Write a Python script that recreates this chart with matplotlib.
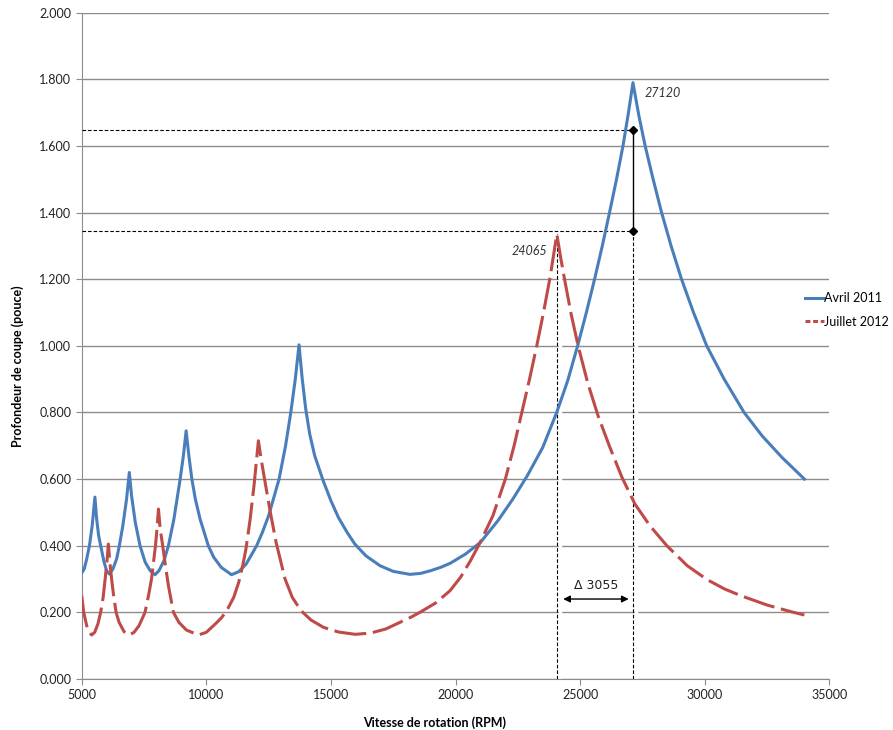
import matplotlib
matplotlib.use("Agg")
import matplotlib.pyplot as plt
from matplotlib.lines import Line2D
from matplotlib.ticker import FormatStrFormatter

plt.rcParams['font.family'] = ['Lato', 'DejaVu Sans']

# Stability lobes, April 2011 (spindle speed in RPM, depth of cut in inches)
avril_rpm = [5000, 5100, 5200, 5310, 5420, 5530, 5600, 5680, 5760, 5900, 6000, 6110,
             6250, 6400, 6510, 6650, 6800, 6910, 7000, 7150, 7340, 7550, 7750, 7940,
             8100, 8300, 8480, 8700, 8950, 9080, 9190, 9300, 9420, 9560, 9750, 10080,
             10300, 10600, 11010, 11300, 11600, 12020, 12250, 12500, 12920, 13180, 13390,
             13570, 13720, 13850, 13990, 14150, 14350, 14690, 15000, 15300, 15650, 15960,
             16400, 16970, 17500, 18170, 18600, 19000, 19400, 19780, 20400, 21000, 21700,
             22300, 22880, 23500, 24060, 24500, 24900, 25250, 25580, 25890, 26180,
             26460, 26720, 26940, 27120, 27360, 27610, 27930, 28270, 28650, 29070,
             29550, 30080, 30780, 31580, 32300, 33100, 34000]
avril_depth = [0.318, 0.330, 0.360, 0.400, 0.460, 0.546, 0.480, 0.430, 0.400, 0.350,
               0.325, 0.315, 0.330, 0.360, 0.400, 0.460, 0.540, 0.620, 0.550, 0.470,
               0.400, 0.350, 0.325, 0.313, 0.325, 0.355, 0.400, 0.480, 0.600, 0.670,
               0.745, 0.670, 0.600, 0.540, 0.480, 0.400, 0.365, 0.335, 0.313, 0.322,
               0.345, 0.400, 0.440, 0.490, 0.600, 0.700, 0.800, 0.900, 1.003, 0.900,
               0.810, 0.735, 0.670, 0.595, 0.535, 0.485, 0.440, 0.405, 0.370, 0.340,
               0.323, 0.314, 0.317, 0.325, 0.335, 0.347, 0.375, 0.410, 0.475, 0.540,
               0.610, 0.695, 0.800, 0.895, 1.000, 1.100, 1.200, 1.300, 1.400, 1.500,
               1.600, 1.700, 1.790, 1.690, 1.600, 1.500, 1.400, 1.300, 1.200, 1.100,
               1.000, 0.900, 0.800, 0.730, 0.665, 0.600]

# Stability lobes, July 2012
juillet_rpm = [5000, 5080, 5200, 5300, 5400, 5520, 5650, 5760, 5860, 5940, 6010, 6070,
               6130, 6200, 6280, 6380, 6500, 6700, 6910, 7100, 7300, 7540, 7680, 7800,
               7880, 7960, 8020, 8080, 8150, 8250, 8360, 8480, 8680, 8900, 9200, 9680,
               10000, 10400, 10600, 10820, 11100, 11300, 11460, 11590, 11760, 11920,
               12090, 12200, 12360, 12570, 12800, 13160, 13450, 13800, 14200, 14700,
               15300, 15980, 16600, 17200, 17770, 18200, 18570, 19200, 19780, 20200,
               20600, 20990, 21500, 22000, 22350, 22660, 22970, 23260, 23530, 23780,
               23930, 24065, 24230, 24400, 24640, 24920, 25300, 25720, 26170, 26680,
               27200, 27800, 28480, 29300, 30100, 30800, 31450, 32500, 33460, 34000]
juillet_depth = [0.250, 0.200, 0.160, 0.140, 0.132, 0.140, 0.165, 0.200, 0.245, 0.300,
                 0.350, 0.405, 0.350, 0.300, 0.250, 0.200, 0.170, 0.142, 0.132, 0.140,
                 0.160, 0.200, 0.250, 0.300, 0.350, 0.400, 0.450, 0.510, 0.450, 0.400,
                 0.340, 0.280, 0.200, 0.170, 0.147, 0.132, 0.140, 0.168, 0.183, 0.205,
                 0.245, 0.290, 0.340, 0.390, 0.480, 0.585, 0.715, 0.660, 0.590, 0.500,
                 0.410, 0.300, 0.245, 0.205, 0.177, 0.155, 0.141, 0.134, 0.138, 0.150,
                 0.170, 0.185, 0.200, 0.228, 0.265, 0.305, 0.355, 0.410, 0.490, 0.600,
                 0.700, 0.800, 0.900, 1.000, 1.100, 1.200, 1.270, 1.335, 1.260, 1.190,
                 1.095, 1.000, 0.890, 0.790, 0.700, 0.605, 0.525, 0.460, 0.400, 0.340,
                 0.298, 0.270, 0.250, 0.222, 0.202, 0.192]

peak_avril = (27120, 1.790)
peak_juillet = (24065, 1.335)
level_high, level_low = 1.647, 1.345

blue = '#4A7EBB'
red = '#BE4B48'
grid_gray = '#8C8C8C'

fig = plt.figure(figsize=(8.93, 7.30), dpi=100)
ax = fig.add_axes([0.0915, 0.0699, 0.8372, 0.9127])

ax.plot(avril_rpm, avril_depth, color=blue, lw=2.2, zorder=4, solid_joinstyle='round')
ax.plot(juillet_rpm, juillet_depth, color=red, lw=2.2, dashes=(10.5, 2.2), zorder=4)

# Reference lines between the two peaks
dash_kw = dict(color='black', lw=0.8, dashes=(3.2, 1.8), zorder=3)
ax.plot([5000, peak_avril[0]], [level_high, level_high], **dash_kw)
ax.plot([5000, peak_avril[0]], [level_low, level_low], **dash_kw)
for x, top in [(peak_juillet[0], peak_juillet[1]), (peak_avril[0], level_low)]:
    ax.plot([x + 120, x + 120], [0, top], color='white', lw=2.5, zorder=2)
    ax.plot([x, x], [0, top], **dash_kw)
ax.plot([peak_avril[0], peak_avril[0]], [level_low, level_high], color='black', lw=1.0,
        marker='D', markersize=4.5, zorder=5)

# Speed shift between the peaks
ax.annotate('', xy=(24320, 0.24), xytext=(26950, 0.24),
            arrowprops=dict(arrowstyle='<|-|>', color='black', lw=1.0,
                            mutation_scale=10, shrinkA=0, shrinkB=0), zorder=5)
ax.text(25640, 0.282, '\u0394 3055', ha='center', va='center', fontsize=9,
        family=['DejaVu Sans'], color='#222222')

ax.text(peak_avril[0] + 450, peak_avril[1] - 0.03, '27120', style='italic', fontsize=9,
        color='#333333', ha='left', va='center')
ax.text(peak_juillet[0] - 400, peak_juillet[1] - 0.05, '24065', style='italic', fontsize=9,
        color='#333333', ha='right', va='center')

ax.set_xlim(5000, 35000)
ax.set_ylim(0, 2.0)
ax.set_xticks(range(5000, 35001, 5000))
ax.set_yticks([i * 0.2 for i in range(11)])
ax.yaxis.set_major_formatter(FormatStrFormatter('%.3f'))
ax.grid(axis='y', color=grid_gray, lw=1.0, zorder=0)
ax.set_axisbelow(True)
for side in ['top', 'right']:
    ax.spines[side].set_visible(False)
for side in ['left', 'bottom']:
    ax.spines[side].set_color(grid_gray)
ax.tick_params(axis='both', direction='out', length=4, color=grid_gray,
               labelsize=9, labelcolor='#222222')

fig.text(435 / 893, 1 - 723 / 730, 'Vitesse de rotation (RPM)', ha='center', va='center',
         fontsize=9, fontweight='bold')
fig.text(18 / 893, 1 - 366 / 730, 'Profondeur de coupe (pouce)', ha='center', va='center',
         rotation=90, fontsize=9, fontweight='bold')

handles = [Line2D([], [], color=blue, lw=2.2),
           Line2D([], [], color=red, lw=2.2, dashes=(1.6, 0.9))]
fig.legend(handles, ['Avril 2011', 'Juillet 2012'], loc='center left',
           bbox_to_anchor=(800 / 893, 1 - 310 / 730), frameon=False, fontsize=9,
           handlelength=1.5, handletextpad=0.0, labelspacing=0.9, borderaxespad=0)

fig.savefig('out.png', dpi=100)
